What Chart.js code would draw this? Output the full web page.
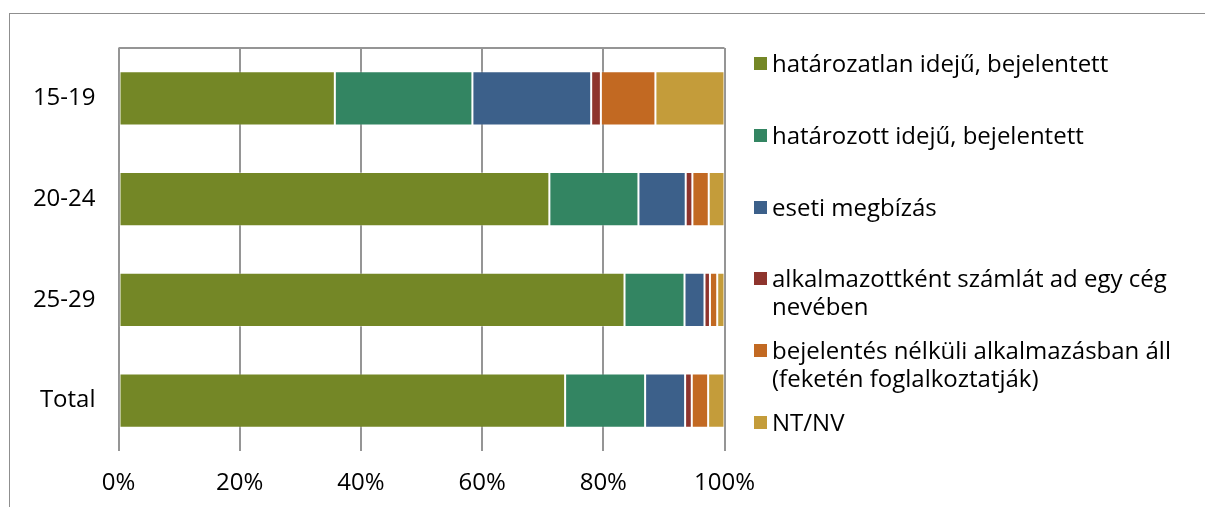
<!DOCTYPE html>
<html>
<head>
<meta charset="utf-8">
<script src="https://cdn.jsdelivr.net/npm/chart.js@4.4.1/dist/chart.umd.min.js"></script>
<style>
  html, body { margin: 0; padding: 0; background: #fff; overflow: hidden; }
  #wrap { position: relative; width: 1205px; height: 507px; }
  #frame { position: absolute; left: 9px; top: 13px; width: 1400px; height: 700px; border: 1px solid #8f8f8f; }
  #c { position: absolute; left: 0; top: 0; }
  #legend { position: absolute; left: 754px; top: 49px; margin: 0; padding: 0; list-style: none;
            font-family: "Open Sans", sans-serif; font-size: 24px; line-height: 28px; color: #000; }
  #legend li { display: flex; align-items: flex-start; height: 71.8px; white-space: nowrap; }
  #legend .sw { width: 13px; height: 13px; margin-top: 8px; margin-right: 5px; flex: none; }
</style>
</head>
<body>
<div id="wrap">
  <div id="frame"></div>
  <canvas id="c" width="1205" height="507"></canvas>
  <ul id="legend"></ul>
</div>
<script>
// age groups and share of each employment type (%)
const categories = ['15-19', '20-24', '25-29', 'Total'];
const hatarozatlan = [35.7, 71.1, 83.5, 73.7];
const hatarozott = [22.7, 14.7, 9.9, 13.2];
const eseti = [19.6, 7.8, 3.3, 6.6];
const szamlat = [1.6, 1.1, 0.9, 1.1];
const feketen = [9.0, 2.7, 1.2, 2.7];
const ntnv = [11.4, 2.6, 1.2, 2.7];

const seriesLabels = [
    ['határozatlan idejű, bejelentett'],
    ['határozott idejű, bejelentett'],
    ['eseti megbízás'],
    ['alkalmazottként számlát ad egy cég', 'nevében'],
    ['bejelentés nélküli alkalmazásban áll', '(feketén foglalkoztatják)'],
    ['NT/NV']
];
const seriesValues = [hatarozatlan, hatarozott, eseti, szamlat, feketen, ntnv];
const seriesColors = ['#748726', '#338562', '#3c608a', '#8e342d', '#c26922', '#c49c3a'];
const xTicks = [0, 20, 40, 60, 80, 100];

const gridColor = '#959595';
const font = { family: '"Open Sans", sans-serif', size: 24 };

// line along the top of the plot area (value axis line)
const topLine = {
    id: 'topLine',
    beforeDatasetsDraw(chart) {
        const { ctx, chartArea } = chart;
        ctx.save();
        ctx.strokeStyle = gridColor;
        ctx.lineWidth = 2;
        ctx.beginPath();
        ctx.moveTo(chartArea.left, chartArea.top);
        ctx.lineTo(chartArea.right, chartArea.top);
        ctx.stroke();
        ctx.restore();
    }
};

const chart = new Chart(document.getElementById('c').getContext('2d'), {
    type: 'bar',
    data: {
        labels: categories,
        datasets: seriesValues.map((vals, i) => ({
            label: seriesLabels[i].join(' '),
            data: vals,
            backgroundColor: seriesColors[i],
            borderColor: 'rgba(255,255,255,0.3)',
            borderWidth: 1,
            borderSkipped: false,
            categoryPercentage: 1,
            barPercentage: 0.536
        }))
    },
    options: {
        indexAxis: 'y',
        responsive: false,
        animation: false,
        layout: { padding: { left: 0, top: 48, right: 480.5, bottom: 0 } },
        plugins: { legend: { display: false }, tooltip: { enabled: false } },
        scales: {
            x: {
                stacked: true,
                min: 0,
                max: 100,
                afterBuildTicks: scale => { scale.ticks = xTicks.map(v => ({ value: v })); },
                afterFit: scale => { scale.height = 56; },
                grid: { color: gridColor, lineWidth: 2, drawTicks: false },
                border: { display: false },
                ticks: { color: '#000', font: font, padding: 18, callback: v => v + '%' }
            },
            y: {
                stacked: true,
                afterFit: scale => { scale.width = 118.5; },
                grid: { display: false, drawTicks: false },
                border: { display: false },
                ticks: { color: '#000', font: font, padding: 23 }
            }
        }
    },
    plugins: [topLine]
});

// legend built from the chart's datasets
const legend = document.getElementById('legend');
chart.data.datasets.forEach((ds, i) => {
    const li = document.createElement('li');
    const sw = document.createElement('span');
    sw.className = 'sw';
    sw.style.background = ds.backgroundColor;
    const txt = document.createElement('span');
    txt.innerHTML = seriesLabels[i].join('<br>');
    li.appendChild(sw);
    li.appendChild(txt);
    legend.appendChild(li);
});
</script>
</body>
</html>
